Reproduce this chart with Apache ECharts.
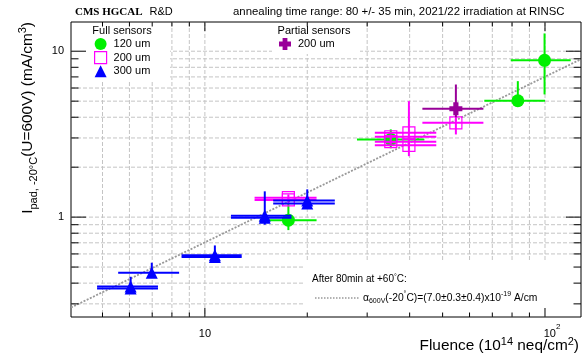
<!DOCTYPE html>
<html>
<head>
<meta charset="utf-8">
<script src="https://cdn.jsdelivr.net/npm/echarts@6.0.0/dist/echarts.min.js"></script>
<style>
html,body{margin:0;padding:0;background:#ffffff;}
#chart{width:584px;height:353px;}
</style>
</head>
<body>
<div id="chart"></div>
<script>
// ---------------- data ----------------
// Full sensors, 120 um  (fluence in 1e14 neq/cm2, current in mA/cm3)
const f120_F   = [17.6, 35.2, 83.2, 99.7];
const f120_I   = [0.958, 2.94, 5.03, 8.81];
const f120_Flo = [14.5, 28.0, 66.3, 79.3];
const f120_Fhi = [21.3, 44.2, 100, 119];
const f120_Ilo = [0.835, 2.60, 4.65, 5.49];
const f120_Ihi = [1.21, 3.38, 6.6, 12.8];
// Full sensors, 200 um
const f200_F   = [17.6, 17.6, 35.2, 35.2, 39.8, 39.8, 54.7];
const f200_I   = [1.31, 1.27, 3.05, 2.85, 3.22, 2.71, 3.70];
const f200_Flo = [14.0, 14.0, 31.6, 31.6, 31.6, 31.6, 43.6];
const f200_Fhi = [21.3, 21.3, 47.9, 47.9, 47.9, 47.9, 65.9];
const f200_Ilo = [1.25, 1.22, 2.95, 2.75, 2.33, 2.60, 3.15];
const f200_Ihi = [1.37, 1.32, 3.15, 2.95, 5.0, 2.85, 4.10];
// Full sensors, 300 um
const f300_F   = [6.05, 6.05, 6.98, 10.7, 10.7, 15.0, 15.0, 20.0, 20.0];
const f300_I   = [0.382, 0.371, 0.462, 0.59, 0.575, 1.02, 0.99, 1.26, 1.21];
const f300_Flo = [4.82, 4.82, 5.56, 8.54, 8.54, 11.93, 11.93, 15.88, 15.88];
const f300_Fhi = [7.28, 7.28, 8.40, 12.83, 12.83, 17.97, 17.97, 24.1, 24.1];
const f300_Ilo = [0.36, 0.35, 0.44, 0.56, 0.55, 0.90, 0.96, 1.20, 1.15];
const f300_Ihi = [0.437, 0.40, 0.531, 0.675, 0.60, 1.43, 1.02, 1.47, 1.27];
// Partial sensors, 200 um
const p200_F   = [54.7];
const p200_I   = [4.50];
const p200_Flo = [43.6];
const p200_Fhi = [65.9];
const p200_Ilo = [4.0];
const p200_Ihi = [6.30];
// alpha fit line (end points)
const fitF = [4.04, 127.6];
const fitI = [0.285, 8.95];
// axes
const xMin = 4.04, xMax = 127.6, yMin = 0.25, yMax = 15;
const xGridVals = [5, 6, 7, 8, 9, 10, 20, 30, 40, 50, 60, 70, 80, 90, 100];
const yGridVals = [0.3, 0.4, 0.5, 0.6, 0.7, 0.8, 0.9, 1, 2, 3, 4, 5, 6, 7, 8, 9, 10];
const xMajorVals = [10, 100];
const yMajorVals = [1, 10];
const xTickText = ['{b|10}', '{b|10}{s|2}'];
const yTickText = ['1', '10'];

// ---------------- helpers ----------------
const FONT = '"Liberation Sans", Arial, Helvetica, sans-serif';
const SERIF = '"Liberation Serif", "Times New Roman", serif';
function rows(F, I, Flo, Fhi, Ilo, Ihi) {
  return F.map((v, i) => [v, I[i], Flo[i], Fhi[i], Ilo[i], Ihi[i]]);
}
const d120 = rows(f120_F, f120_I, f120_Flo, f120_Fhi, f120_Ilo, f120_Ihi);
const d200 = rows(f200_F, f200_I, f200_Flo, f200_Fhi, f200_Ilo, f200_Ihi);
const d300 = rows(f300_F, f300_I, f300_Flo, f300_Fhi, f300_Ilo, f300_Ihi);
const dP   = rows(p200_F, p200_I, p200_Flo, p200_Fhi, p200_Ilo, p200_Ihi);

const C120 = '#00f000', C200 = '#ff00ff', C300 = '#0000ff', CP = '#990099';

function errSeries(data, color, z) {
  return {
    type: 'custom', z: z, silent: true, animation: false,
    dimensions: ['F', 'I', 'Flo', 'Fhi', 'Ilo', 'Ihi'],
    encode: { x: 0, y: 1 },
    data: data,
    renderItem: function (params, api) {
      const F = api.value(0), I = api.value(1);
      const a = api.coord([api.value(2), I]), b = api.coord([api.value(3), I]);
      const c = api.coord([F, api.value(4)]), d = api.coord([F, api.value(5)]);
      return {
        type: 'group', children: [
          { type: 'line', shape: { x1: a[0], y1: a[1], x2: b[0], y2: b[1] }, style: { stroke: color, lineWidth: 2 } },
          { type: 'line', shape: { x1: c[0], y1: c[1], x2: d[0], y2: d[1] }, style: { stroke: color, lineWidth: 2 } }
        ]
      };
    }
  };
}

function markSeries(name, data, symbol, size, itemStyle, z) {
  return {
    type: 'scatter', name: name, z: z, silent: true, animation: false,
    symbol: symbol, symbolSize: size, data: data.map(r => [r[0], r[1]]),
    itemStyle: Object.assign({ opacity: 1 }, itemStyle)
  };
}

const crossPath = 'path://M3,0L7,0L7,3L10,3L10,7L7,7L7,10L3,10L3,7L0,7L0,3L3,3Z';

const series = [
  // x grid lines
  {
    type: 'custom', z: 1, silent: true, animation: false,
    data: xGridVals.map(v => [v, 1]), encode: { x: 0, y: 1 },
    renderItem: function (params, api) {
      const p = api.coord([api.value(0), 1]); const cs = params.coordSys;
      return { type: 'line', shape: { x1: p[0], y1: cs.y, x2: p[0], y2: cs.y + cs.height },
               style: { stroke: '#c4c4c4', lineWidth: 1, lineDash: [4, 2] } };
    }
  },
  // y grid lines
  {
    type: 'custom', z: 1, silent: true, animation: false,
    data: yGridVals.map(v => [10, v]), encode: { x: 0, y: 1 },
    renderItem: function (params, api) {
      const p = api.coord([10, api.value(1)]); const cs = params.coordSys;
      return { type: 'line', shape: { x1: cs.x, y1: p[1], x2: cs.x + cs.width, y2: p[1] },
               style: { stroke: '#c4c4c4', lineWidth: 1, lineDash: [4, 2] } };
    }
  },
  // x ticks (bottom + top)
  {
    type: 'custom', z: 5, silent: true, animation: false,
    data: xGridVals.map(v => [v, 1]), encode: { x: 0, y: 1 },
    renderItem: function (params, api) {
      const v = api.value(0); const p = api.coord([v, 1]); const cs = params.coordSys;
      const L = xMajorVals.indexOf(v) >= 0 ? 9 : 4.5;
      const bot = cs.y + cs.height, top = cs.y;
      return { type: 'group', children: [
        { type: 'line', shape: { x1: p[0], y1: bot, x2: p[0], y2: bot - L }, style: { stroke: '#000', lineWidth: 1 } },
        { type: 'line', shape: { x1: p[0], y1: top, x2: p[0], y2: top + L }, style: { stroke: '#000', lineWidth: 1 } }
      ] };
    }
  },
  // y ticks (left + right)
  {
    type: 'custom', z: 5, silent: true, animation: false,
    data: yGridVals.map(v => [10, v]), encode: { x: 0, y: 1 },
    renderItem: function (params, api) {
      const v = api.value(1); const p = api.coord([10, v]); const cs = params.coordSys;
      const L = yMajorVals.indexOf(v) >= 0 ? 15 : 7.5;
      const l = cs.x, r = cs.x + cs.width;
      return { type: 'group', children: [
        { type: 'line', shape: { x1: l, y1: p[1], x2: l + L, y2: p[1] }, style: { stroke: '#000', lineWidth: 1 } },
        { type: 'line', shape: { x1: r, y1: p[1], x2: r - L, y2: p[1] }, style: { stroke: '#000', lineWidth: 1 } }
      ] };
    }
  },
  // x tick labels
  {
    type: 'custom', z: 6, silent: true, animation: false,
    data: xMajorVals.map((v, i) => [v, 1, i]), encode: { x: 0, y: 1 },
    renderItem: function (params, api) {
      const i = api.value(2); const p = api.coord([api.value(0), 1]); const cs = params.coordSys;
      const txt = xTickText[i];
      const dx = txt.indexOf('{s|') >= 0 ? 7 : 0;
      return { type: 'text', x: p[0] + dx, y: cs.y + cs.height + 14,
        style: { text: txt, fill: '#000', align: 'center', verticalAlign: 'middle',
          fontFamily: FONT, fontSize: 11,
          rich: { b: { fontFamily: FONT, fontSize: 11, lineHeight: 16, verticalAlign: 'bottom' },
                  s: { fontFamily: FONT, fontSize: 8, lineHeight: 8, verticalAlign: 'top' } } } };
    }
  },
  // y tick labels
  {
    type: 'custom', z: 6, silent: true, animation: false,
    data: yMajorVals.map((v, i) => [10, v, i]), encode: { x: 0, y: 1 },
    renderItem: function (params, api) {
      const i = api.value(2); const p = api.coord([10, api.value(1)]); const cs = params.coordSys;
      return { type: 'text', x: cs.x - 7, y: p[1],
        style: { text: yTickText[i], fill: '#000', align: 'right', verticalAlign: 'middle',
          fontFamily: FONT, fontSize: 11 } };
    }
  },
  // fit line
  {
    type: 'line', z: 4, silent: true, animation: false, symbol: 'none',
    data: fitF.map((v, i) => [v, fitI[i]]),
    lineStyle: { color: '#999999', width: 1.8, type: [2, 1.5] }
  },
  errSeries(d120, C120, 7),
  markSeries('120 um', d120, 'circle', 13, { color: C120 }, 8),
  errSeries(d200, C200, 9),
  markSeries('200 um', d200, 'rect', 12, { color: 'rgba(0,0,0,0)', borderColor: C200, borderWidth: 1.2 }, 10),
  errSeries(d300, C300, 11),
  markSeries('300 um', d300, 'triangle', 12, { color: C300 }, 12),
  errSeries(dP, CP, 13),
  markSeries('200 um ', dP, crossPath, 13, { color: CP }, 14)
];

const legendText = { fontFamily: FONT, fontSize: 11, color: '#000', padding: [0, 0, 0, 2] };

const option = {
  animation: false,
  backgroundColor: '#ffffff',
  grid: { left: 71, right: 3, top: 22, bottom: 36, containLabel: false, outerBoundsMode: 'none',
          show: true, borderColor: '#000', borderWidth: 1, backgroundColor: 'rgba(0,0,0,0)' },
  xAxis: { type: 'log', logBase: 10, min: xMin, max: xMax,
           axisLine: { show: false }, axisTick: { show: false }, axisLabel: { show: false },
           splitLine: { show: false }, minorTick: { show: false } },
  yAxis: { type: 'log', logBase: 10, min: yMin, max: yMax,
           axisLine: { show: false }, axisTick: { show: false }, axisLabel: { show: false },
           splitLine: { show: false }, minorTick: { show: false } },
  legend: [
    { data: ['120 um', { name: '200 um', itemStyle: { borderWidth: 1.2 } }, '300 um'],
      orient: 'vertical', left: 94, top: 38, padding: 0, itemWidth: 12, itemHeight: 12, itemGap: 1,
      selectedMode: false, textStyle: legendText, itemStyle: { opacity: 1 }, z: 15 },
    { data: ['200 um '], orient: 'vertical', left: 279, top: 38, padding: 0, itemWidth: 12, itemHeight: 12,
      selectedMode: false, textStyle: legendText, itemStyle: { opacity: 1 }, z: 15 }
  ],
  graphic: [
    { type: 'rect', z: 3, silent: true, shape: { x: 72, y: 23, width: 98, height: 59 }, style: { fill: '#fff' } },
    { type: 'rect', z: 3, silent: true, shape: { x: 272, y: 23, width: 88, height: 31 }, style: { fill: '#fff' } },
    { type: 'rect', z: 3, silent: true, shape: { x: 305, y: 262, width: 275, height: 54 }, style: { fill: '#fff' } },
    { type: 'text', z: 16, silent: true, x: 122, y: 31,
      style: { text: 'Full sensors', fill: '#000', fontFamily: FONT, fontSize: 11, align: 'center', verticalAlign: 'middle', textAlign: 'center', textVerticalAlign: 'middle' } },
    { type: 'text', z: 16, silent: true, x: 314, y: 31,
      style: { text: 'Partial sensors', fill: '#000', fontFamily: FONT, fontSize: 11, align: 'center', verticalAlign: 'middle', textAlign: 'center', textVerticalAlign: 'middle' } },
    { type: 'text', z: 16, silent: true, x: 312, y: 279,
      style: { text: 'After 80min at +60{p|°}C:', fill: '#000', fontFamily: FONT, fontSize: 10, align: 'left', verticalAlign: 'middle', textAlign: 'left', textVerticalAlign: 'middle',
        rich: { p: { fontFamily: FONT, fontSize: 7, lineHeight: 7, verticalAlign: 'top' } } } },
    { type: 'line', z: 16, silent: true, shape: { x1: 315, y1: 298, x2: 360, y2: 298 },
      style: { stroke: '#999999', lineWidth: 1.5, lineDash: [1.5, 1.5] } },
    { type: 'text', z: 16, silent: true, x: 363, y: 298,
      style: { text: '{n|α}{d|600V}{n|(-20}{p|°}{n|C)=(7.0±0.3±0.4)x10}{p|-19}{n| A/cm}', fill: '#000', fontFamily: FONT, fontSize: 10.3, align: 'left', verticalAlign: 'middle', textAlign: 'left', textVerticalAlign: 'middle',
        rich: { n: { fontFamily: FONT, fontSize: 10.3, lineHeight: 14, verticalAlign: 'middle' },
                d: { fontFamily: FONT, fontSize: 7, lineHeight: 7, verticalAlign: 'bottom' },
                p: { fontFamily: FONT, fontSize: 7, lineHeight: 7, verticalAlign: 'top' } } } },
    { type: 'text', z: 16, silent: true, x: 75, y: 12,
      style: { text: '{c|CMS HGCAL}{r|R&D}', fill: '#000', align: 'left', verticalAlign: 'middle', textAlign: 'left', textVerticalAlign: 'middle',
        rich: { c: { fontFamily: SERIF, fontWeight: 'bold', fontSize: 11 },
                r: { fontFamily: FONT, fontSize: 11, padding: [0, 0, 0, 7] } } } },
    { type: 'text', z: 16, silent: true, x: 233, y: 12,
      style: { text: 'annealing time range: 80 +/- 35 min, 2021/22 irradiation at RINSC', fill: '#000', fontFamily: FONT, fontSize: 11.4, align: 'left', verticalAlign: 'middle', textAlign: 'left', textVerticalAlign: 'middle' } },
    { type: 'text', z: 16, silent: true, x: 579, y: 346,
      style: { text: '{n|Fluence (10}{p|14}{n| neq/cm}{p|2}{n|)}', fill: '#000', fontFamily: FONT, fontSize: 15.4, align: 'right', verticalAlign: 'middle', textAlign: 'right', textVerticalAlign: 'middle',
        rich: { n: { fontFamily: FONT, fontSize: 15.4, lineHeight: 20, verticalAlign: 'middle' },
                p: { fontFamily: FONT, fontSize: 11, lineHeight: 10, verticalAlign: 'top' } } } },
    { type: 'text', z: 16, silent: true, x: 28, y: 22, rotation: Math.PI / 2,
      style: { text: '{n|I}{d|pad, -20°C}{n|(U=600V) (mA/cm}{p|3}{n|)}', fill: '#000', fontFamily: FONT, fontSize: 15.4, align: 'right', verticalAlign: 'middle', textAlign: 'right', textVerticalAlign: 'middle',
        rich: { n: { fontFamily: FONT, fontSize: 15.4, lineHeight: 22, verticalAlign: 'middle' },
                d: { fontFamily: FONT, fontSize: 11, lineHeight: 11, verticalAlign: 'bottom' },
                p: { fontFamily: FONT, fontSize: 11, lineHeight: 11, verticalAlign: 'top' } } } }
  ],
  series: series
};

const chart = echarts.init(document.getElementById('chart'), null, { renderer: 'canvas' });
chart.setOption(option);
</script>
</body>
</html>
